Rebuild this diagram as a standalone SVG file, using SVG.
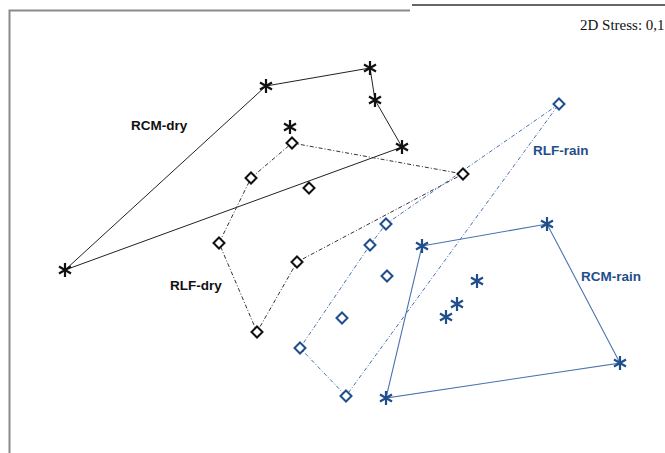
<svg xmlns="http://www.w3.org/2000/svg" xmlns:xlink="http://www.w3.org/1999/xlink" width="665" height="453" viewBox="0 0 665 453">
<style>
.frame{stroke:#8a8a8a;stroke-width:2;fill:none}
.topline{stroke:#333;stroke-width:1.5}
.dry-solid{stroke:#222;stroke-width:1;fill:none}
.dry-dash{stroke:#333;stroke-width:1;fill:none;stroke-dasharray:4 2 1 2}
.rain-solid{stroke:#4a72b0;stroke-width:1.1;fill:none}
.rain-dash{stroke:#4a72b0;stroke-width:1;fill:none;stroke-dasharray:4 2 1 2}
.ast-k{stroke:#111;stroke-width:2.2;fill:none}
.ast-b{stroke:#1f4e8c;stroke-width:2.2;fill:none}
.dia-k{stroke:#111;stroke-width:2;fill:#fff}
.dia-b{stroke:#1f4e8c;stroke-width:2;fill:#fff}
.lbl{font-family:"Liberation Sans",Arial,sans-serif;font-weight:bold;font-size:13.5px}
.lbl-k{fill:#111}
.lbl-b{fill:#1f4e8c}
.stress{font-family:"Liberation Serif","Times New Roman",serif;font-size:15px;fill:#111}
</style>
<defs>
<path id="ast" d="M0,-7V7M-6,-3.5L6,3.5M-6,3.5L6,-3.5"/>
<path id="dia" d="M0,-5.5L5.5,0L0,5.5L-5.5,0Z"/>
</defs>
<rect width="665" height="453" fill="#fff"/>
<path class="frame" d="M9.5,453V10.5H410"/>
<line class="topline" x1="412" y1="5" x2="665" y2="5"/>
<text class="stress" x="580" y="30">2D Stress: 0,1</text>

<g id="connectors">
<polygon class="dry-solid" points="65,270 266,86 370,68 375,100 402,147"/>
<polygon class="dry-dash" points="292,143 463,174 297,262 257,332 219,243 251,178"/>
<polygon class="rain-dash" points="559,104 386,224 370,245 300,348 346,396"/>
<polygon class="rain-solid" points="422,246 547,224 620,363 386,398"/>
</g>

<g id="rcm-dry-1" class="ast-k"><use xlink:href="#ast" x="65" y="270"/></g>
<g id="rcm-dry-2" class="ast-k"><use xlink:href="#ast" x="266" y="86"/></g>
<g id="rcm-dry-3" class="ast-k"><use xlink:href="#ast" x="370" y="68"/></g>
<g id="rcm-dry-4" class="ast-k"><use xlink:href="#ast" x="375" y="100"/></g>
<g id="rcm-dry-5" class="ast-k"><use xlink:href="#ast" x="402" y="147"/></g>
<g id="rcm-dry-6" class="ast-k"><use xlink:href="#ast" x="290" y="127"/></g>

<g id="rlf-dry-1" class="dia-k"><use xlink:href="#dia" x="292" y="143"/></g>
<g id="rlf-dry-2" class="dia-k"><use xlink:href="#dia" x="463" y="174"/></g>
<g id="rlf-dry-3" class="dia-k"><use xlink:href="#dia" x="297" y="262"/></g>
<g id="rlf-dry-4" class="dia-k"><use xlink:href="#dia" x="257" y="332"/></g>
<g id="rlf-dry-5" class="dia-k"><use xlink:href="#dia" x="219" y="243"/></g>
<g id="rlf-dry-6" class="dia-k"><use xlink:href="#dia" x="251" y="178"/></g>
<g id="rlf-dry-7" class="dia-k"><use xlink:href="#dia" x="309" y="188"/></g>

<g id="rlf-rain-1" class="dia-b"><use xlink:href="#dia" x="559" y="104"/></g>
<g id="rlf-rain-2" class="dia-b"><use xlink:href="#dia" x="386" y="224"/></g>
<g id="rlf-rain-3" class="dia-b"><use xlink:href="#dia" x="370" y="245"/></g>
<g id="rlf-rain-4" class="dia-b"><use xlink:href="#dia" x="300" y="348"/></g>
<g id="rlf-rain-5" class="dia-b"><use xlink:href="#dia" x="346" y="396"/></g>
<g id="rlf-rain-6" class="dia-b"><use xlink:href="#dia" x="387" y="276"/></g>
<g id="rlf-rain-7" class="dia-b"><use xlink:href="#dia" x="342" y="318"/></g>

<g id="rcm-rain-1" class="ast-b"><use xlink:href="#ast" x="422" y="246"/></g>
<g id="rcm-rain-2" class="ast-b"><use xlink:href="#ast" x="547" y="224"/></g>
<g id="rcm-rain-3" class="ast-b"><use xlink:href="#ast" x="620" y="363"/></g>
<g id="rcm-rain-4" class="ast-b"><use xlink:href="#ast" x="386" y="398"/></g>
<g id="rcm-rain-5" class="ast-b"><use xlink:href="#ast" x="477" y="281"/></g>
<g id="rcm-rain-6" class="ast-b"><use xlink:href="#ast" x="457" y="304"/></g>
<g id="rcm-rain-7" class="ast-b"><use xlink:href="#ast" x="446" y="317"/></g>

<g id="labels">
<text class="lbl lbl-k" x="131" y="130">RCM-dry</text>
<text class="lbl lbl-k" x="170" y="290">RLF-dry</text>
<text class="lbl lbl-b" x="533" y="155">RLF-rain</text>
<text class="lbl lbl-b" x="581" y="281">RCM-rain</text>
</g>
</svg>
